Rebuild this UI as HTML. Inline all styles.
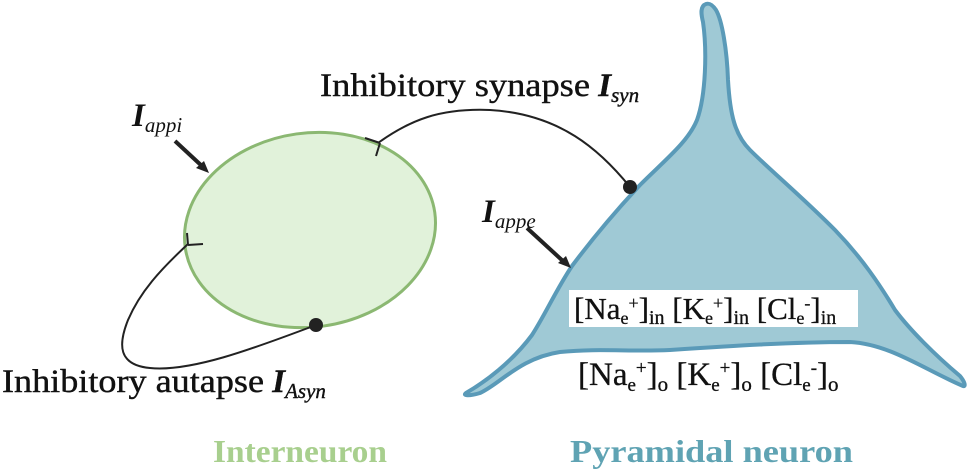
<!DOCTYPE html>
<html><head><meta charset="utf-8"><style>
html,body{margin:0;padding:0;background:#fff;}
svg{display:block;}
text{font-family:"Liberation Serif",serif;}
</style></head><body>
<svg width="967" height="471" viewBox="0 0 967 471" xmlns="http://www.w3.org/2000/svg">
<path d="M706,4 C700,6 701,14 703,22 C707,50 706,95 697,120 C688,142 665,160 640,185 C612,215 590,242 572,266 C556,290 545,315 532,335 C512,362 485,382 466,393 C462,396 470,396 480,393 C500,384 520,358 560,352 C600,348 630,352 670,350 C730,346 790,342 850,342 C890,344 925,370 963,386 C966,387 965,382 960,376 C935,355 910,330 895,310 C880,285 862,258 835,230 C800,195 770,170 750,150 C735,135 730,115 728,80 C727,50 722,20 716,10 C712,4 709,3 706,4 Z" fill="#9fc9d5" stroke="#5a9ab8" stroke-width="4" stroke-linejoin="round"/>
<rect x="569" y="290" width="289" height="37" fill="#fff"/>
<ellipse cx="310" cy="230" rx="126" ry="97" transform="rotate(-8 310 230)" fill="#e1f2da" stroke="#8bb872" stroke-width="3"/>
<path d="M378,143 C410,120 440,108 490,110 C560,114 600,150 630,187" fill="none" stroke="#222" stroke-width="2"/>
<line x1="365" y1="138" x2="380" y2="143" stroke="#222" stroke-width="2"/>
<line x1="380" y1="143" x2="376" y2="156" stroke="#222" stroke-width="2"/>
<circle cx="630" cy="187" r="7" fill="#222"/>
<path d="M316,325 C250,350 190,372 150,368 C118,365 118,345 128,320 C140,292 160,270 188,244" fill="none" stroke="#222" stroke-width="2"/>
<line x1="187" y1="233" x2="188" y2="245" stroke="#222" stroke-width="2"/>
<line x1="188" y1="245" x2="203" y2="244" stroke="#222" stroke-width="2"/>
<circle cx="316" cy="325" r="7" fill="#222"/>
<line x1="175" y1="141" x2="203" y2="167" stroke="#222" stroke-width="4"/>
<polygon points="209,173 196,168 204,161" fill="#222"/>
<line x1="527" y1="228" x2="564" y2="262" stroke="#222" stroke-width="4"/>
<polygon points="571,268 558,263 566,256" fill="#222"/>
<text x="320" y="96" font-size="33" fill="#111" stroke="#111" stroke-width="0.4"><tspan textLength="270" lengthAdjust="spacingAndGlyphs">Inhibitory synapse</tspan> <tspan font-style="italic" font-weight="bold">I</tspan><tspan font-style="italic" font-size="21" dy="6">syn</tspan></text>
<text x="132" y="126" font-size="33" fill="#111" font-style="italic" font-weight="bold">I<tspan font-size="21" dy="6" font-weight="normal">appi</tspan></text>
<text x="482" y="222" font-size="33" fill="#111" font-style="italic" font-weight="bold">I<tspan font-size="21" dy="6" font-weight="normal">appe</tspan></text>
<text x="2" y="392" font-size="33" fill="#111" stroke="#111" stroke-width="0.4"><tspan textLength="262" lengthAdjust="spacingAndGlyphs">Inhibitory autapse</tspan> <tspan font-style="italic" font-weight="bold">I</tspan><tspan font-style="italic" font-size="21" dy="6">Asyn</tspan></text>
<text x="574" y="319" font-size="31" fill="#111" stroke="#111" stroke-width="0.3">[Na<tspan font-size="18" dy="5">e</tspan><tspan font-size="18" dy="-15">+</tspan><tspan dy="10">]</tspan><tspan font-size="20" dy="5">in</tspan><tspan dy="-5"> [K</tspan><tspan font-size="18" dy="5">e</tspan><tspan font-size="18" dy="-15">+</tspan><tspan dy="10">]</tspan><tspan font-size="20" dy="5">in</tspan><tspan dy="-5"> [Cl</tspan><tspan font-size="18" dy="5">e</tspan><tspan font-size="18" dy="-15">-</tspan><tspan dy="10">]</tspan><tspan font-size="20" dy="5">in</tspan></text>
<text x="578" y="385" font-size="33" fill="#111" stroke="#111" stroke-width="0.3">[Na<tspan font-size="19" dy="6">e</tspan><tspan font-size="19" dy="-17">+</tspan><tspan dy="11">]</tspan><tspan font-size="21" dy="6">o</tspan><tspan dy="-6"> [K</tspan><tspan font-size="19" dy="6">e</tspan><tspan font-size="19" dy="-17">+</tspan><tspan dy="11">]</tspan><tspan font-size="21" dy="6">o</tspan><tspan dy="-6"> [Cl</tspan><tspan font-size="19" dy="6">e</tspan><tspan font-size="19" dy="-17">-</tspan><tspan dy="11">]</tspan><tspan font-size="21" dy="6">o</tspan></text>
<text x="213" y="462" font-size="32" fill="#a8cf8e" font-weight="bold" textLength="174" lengthAdjust="spacingAndGlyphs">Interneuron</text>
<text x="570" y="462" font-size="32" fill="#5fa3b3" font-weight="bold" textLength="283" lengthAdjust="spacingAndGlyphs">Pyramidal neuron</text>
</svg>
</body></html>
